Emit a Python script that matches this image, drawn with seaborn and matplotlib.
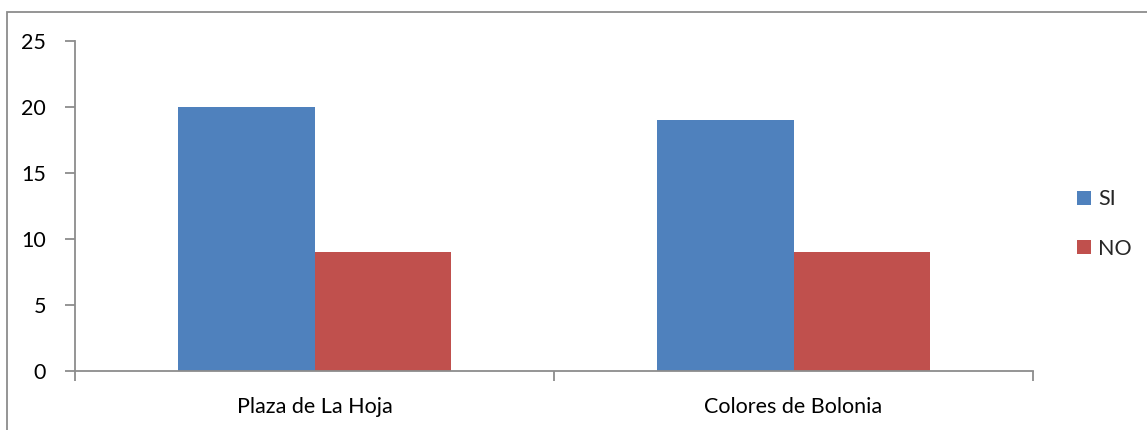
import matplotlib
matplotlib.use("Agg")
import matplotlib.pyplot as plt
from matplotlib.patches import Rectangle, Patch
from matplotlib.ticker import FixedLocator, NullFormatter
import pandas as pd
import seaborn as sns

categories = ["Plaza de La Hoja", "Colores de Bolonia"]
series_names = ["SI", "NO"]
si_values = [20, 19]
no_values = [9, 9]
colors = ["#4F81BD", "#C0504D"]

df = pd.DataFrame({
    "lugar": categories * 2,
    "respuesta": [series_names[0]] * 2 + [series_names[1]] * 2,
    "valor": si_values + no_values,
})

sns.set_theme(style="white")
plt.rcParams["font.family"] = ["Lato", "DejaVu Sans"]

W, H = 1147, 430
fig = plt.figure(figsize=(W / 100, H / 100), dpi=100)
ax = fig.add_axes([75 / W, 1 - 371 / H, (1033 - 75) / W, (371 - 41) / H])

sns.barplot(data=df, x="lugar", y="valor", hue="respuesta",
            palette=colors, width=0.572, ax=ax, saturation=1,
            edgecolor="none", linewidth=0, legend=False)

ax.set_xlim(-0.5, 1.5)
ax.set_ylim(0, 25)
ax.set_yticks([0, 5, 10, 15, 20, 25])
ax.set_xlabel("")
ax.set_ylabel("")

grey = "#8C8C8C"
fs = 15.5
for side in ["top", "right"]:
    ax.spines[side].set_visible(False)
for side in ["left", "bottom"]:
    ax.spines[side].set_color(grey)
    ax.spines[side].set_linewidth(1.3)

ax.tick_params(axis="y", which="major", direction="out", length=7, width=1.3,
               color=grey, labelsize=fs, labelcolor="black", pad=14, left=True)
ax.tick_params(axis="x", which="major", length=0, labelsize=fs,
               labelcolor="black", pad=19)
ax.xaxis.set_minor_locator(FixedLocator([-0.5, 0.5, 1.5]))
ax.xaxis.set_minor_formatter(NullFormatter())
ax.tick_params(axis="x", which="minor", direction="out", length=7, width=1.3,
               color=grey, bottom=True)

handles = [Patch(facecolor=c, edgecolor="none") for c in colors]
fig.legend(handles, series_names, loc="center left",
           bbox_to_anchor=(1066 / W, 1 - 224 / H), frameon=False,
           fontsize=fs, handlelength=0.65, handleheight=0.65,
           handletextpad=0.35, labelspacing=1.35, borderpad=0)

fig.add_artist(Rectangle((7 / W, -0.05), 1.1, 1 - 12 / H + 0.05,
                         transform=fig.transFigure, fill=False,
                         edgecolor=grey, linewidth=1.3, clip_on=False))

fig.savefig("out.png", dpi=100, facecolor="white")
